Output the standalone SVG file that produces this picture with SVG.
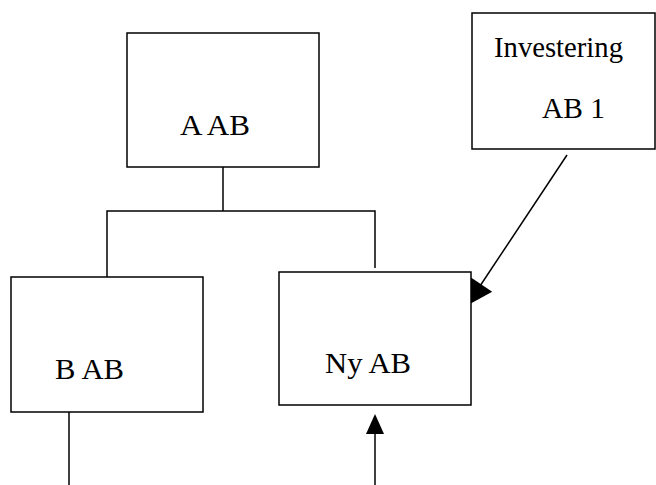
<svg xmlns="http://www.w3.org/2000/svg" width="656" height="485" viewBox="0 0 656 485">
  <style>
    .box { fill: #ffffff; stroke: #000000; stroke-width: 1.5; }
    .lbl { font-family: "Liberation Serif", "Times New Roman", serif; font-size: 30px; fill: #000000; }
    .ln { fill: none; stroke: #000000; stroke-width: 1.5; }
    .ah { fill: #000000; stroke: none; }
  </style>
  <rect width="656" height="485" fill="#ffffff"/>
  <g id="connectors">
    <polyline class="ln" points="223,167 223,211"/>
    <polyline class="ln" points="107,277 107,211 375,211 375,268"/>
    <line class="ln" x1="69" y1="412" x2="69" y2="485"/>
    <line class="ln" x1="375" y1="485" x2="375" y2="432"/>
    <polygon class="ah" points="375,414 366,434 384,434"/>
    <line class="ln" x1="567" y1="155" x2="478" y2="289"/>
    <polygon class="ah" points="467.6,305.3 470.6,277.3 492.2,291.7"/>
  </g>
  <g id="node-a">
    <rect class="box" x="127" y="33" width="192" height="134"/>
    <text class="lbl" x="180" y="135" textLength="70" lengthAdjust="spacingAndGlyphs">A AB</text>
  </g>
  <g id="node-investering">
    <rect class="box" x="472" y="13" width="183" height="136"/>
    <text class="lbl" x="494" y="57" textLength="129" lengthAdjust="spacingAndGlyphs">Investering</text>
    <text class="lbl" x="542" y="118" textLength="63" lengthAdjust="spacingAndGlyphs">AB 1</text>
  </g>
  <g id="node-b">
    <rect class="box" x="11" y="277" width="192" height="135"/>
    <text class="lbl" x="55" y="379" textLength="69" lengthAdjust="spacingAndGlyphs">B AB</text>
  </g>
  <g id="node-ny">
    <rect class="box" x="279" y="272" width="192" height="133"/>
    <text class="lbl" x="325" y="373" textLength="86" lengthAdjust="spacingAndGlyphs">Ny AB</text>
  </g>
</svg>
